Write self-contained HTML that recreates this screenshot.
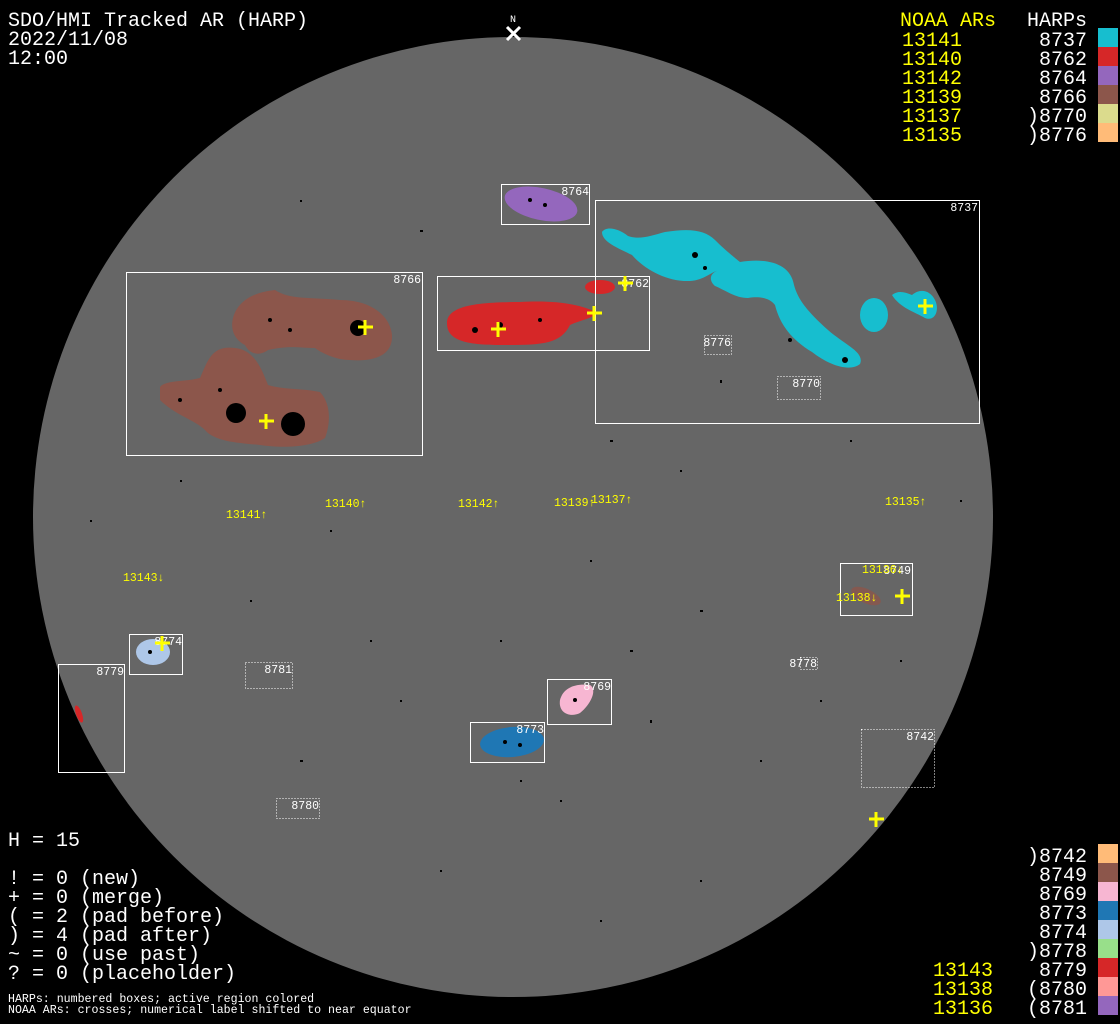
<!DOCTYPE html>
<html><head><meta charset="utf-8"><style>
html,body{margin:0;padding:0;background:#000;}
svg{display:block}
.t{font-family:"Liberation Mono","DejaVu Sans Mono",monospace;}
</style></head><body>
<svg width="1120" height="1024" viewBox="0 0 1120 1024" xmlns="http://www.w3.org/2000/svg">
<rect width="1120" height="1024" fill="#000"/>
<circle cx="513" cy="517" r="480" fill="#666"/>
<g fill="#000">
<rect x="420" y="230" width="3" height="2"/><rect x="300" y="200" width="2" height="2"/><rect x="680" y="470" width="2" height="2"/>
<rect x="610" y="440" width="3" height="2"/><rect x="720" y="380" width="2" height="3"/><rect x="850" y="440" width="2" height="2"/>
<rect x="330" y="530" width="2" height="2"/><rect x="590" y="560" width="2" height="2"/><rect x="700" y="610" width="3" height="2"/>
<rect x="500" y="640" width="2" height="2"/><rect x="400" y="700" width="2" height="2"/><rect x="650" y="720" width="2" height="3"/>
<rect x="760" y="760" width="2" height="2"/><rect x="300" y="760" width="3" height="2"/><rect x="560" y="800" width="2" height="2"/>
<rect x="440" y="870" width="2" height="2"/><rect x="700" y="880" width="2" height="2"/><rect x="250" y="600" width="2" height="2"/>
<rect x="180" y="480" width="2" height="2"/><rect x="90" y="520" width="2" height="2"/><rect x="820" y="700" width="2" height="2"/>
<rect x="900" y="660" width="2" height="2"/><rect x="960" y="500" width="2" height="2"/><rect x="370" y="640" width="2" height="2"/>
<rect x="630" y="650" width="3" height="2"/><rect x="520" y="780" width="2" height="2"/><rect x="600" y="920" width="2" height="2"/>
</g>
<ellipse cx="541" cy="204" rx="37" ry="16" transform="rotate(12 541 204)" fill="#9467bd"/>
<path d="M447,323 C447,305 480,302 520,302 C560,300 580,305 596,312 C596,318 580,320 570,325 C560,345 540,345 500,345 C460,345 447,338 447,323Z" fill="#d62728"/>
<ellipse cx="600" cy="287" rx="15" ry="7" fill="#d62728"/>
<path d="M602,232 C606,226 618,228 628,236 C640,240 650,236 665,232 C690,228 705,230 715,240 C725,250 735,258 740,262 C765,258 790,262 794,285 C798,300 808,312 828,330 C845,345 865,352 860,364 C850,372 830,366 812,352 C792,340 780,325 775,305 C770,298 760,296 748,298 C735,298 725,290 715,286 C708,280 710,272 720,270 C710,272 705,280 690,281 C668,282 645,270 632,255 C618,248 602,242 602,232Z" fill="#17becf"/>
<ellipse cx="874" cy="315" rx="14" ry="17" fill="#17becf"/>
<path d="M892,295 C898,290 905,292 912,295 C920,288 930,290 935,300 C940,310 935,322 925,318 C915,312 900,308 892,295Z" fill="#17becf"/>
<path d="M233,318 C238,300 255,292 275,290 C290,300 310,297 340,300 C370,300 390,315 392,335 C393,355 375,362 350,360 C335,360 320,352 315,348 C300,348 290,345 268,350 C260,356 250,355 245,345 C235,340 230,330 233,318Z" fill="#8c564b"/>
<path d="M160,387 C165,380 185,382 200,378 C208,360 212,345 235,348 C255,350 262,370 268,385 C285,390 300,388 320,392 C332,405 330,425 325,438 C310,448 280,448 260,445 C240,443 215,442 205,430 C195,420 175,415 160,400Z" fill="#8c564b"/>
<g fill="#000">
<circle cx="358" cy="328" r="8"/><circle cx="236" cy="413" r="10"/><circle cx="293" cy="424" r="12"/>
<circle cx="270" cy="320" r="2"/><circle cx="290" cy="330" r="2"/><circle cx="220" cy="390" r="2"/><circle cx="180" cy="400" r="2"/>
<circle cx="500" cy="325" r="3"/><circle cx="475" cy="330" r="3"/><circle cx="540" cy="320" r="2"/>
<circle cx="695" cy="255" r="3"/><circle cx="790" cy="340" r="2"/><circle cx="845" cy="360" r="3"/><circle cx="705" cy="268" r="2"/>
<circle cx="545" cy="205" r="2"/><circle cx="530" cy="200" r="2"/>
</g>
<ellipse cx="153" cy="652" rx="17" ry="13" fill="#aec7e8"/>
<ellipse cx="79" cy="714" rx="3" ry="9" transform="rotate(-20 79 714)" fill="#d62728"/>
<path d="M560,700 C563,688 575,683 590,685 C598,690 590,705 580,713 C570,718 558,713 560,700Z" fill="#f7b6d2"/>
<ellipse cx="512" cy="742" rx="32" ry="15" transform="rotate(-5 512 742)" fill="#1f77b4"/>
<ellipse cx="866" cy="596" rx="16" ry="7" transform="rotate(25 866 596)" fill="#8c564b" opacity="0.8"/>
<g fill="#000"><circle cx="505" cy="742" r="2"/><circle cx="520" cy="745" r="2"/><circle cx="575" cy="700" r="2"/><circle cx="150" cy="652" r="2"/></g>
<g fill="none" stroke="#fff" stroke-width="1">
<rect x="501.5" y="184.5" width="88" height="40"/>
<rect x="595.5" y="200.5" width="384" height="223"/>
<rect x="126.5" y="272.5" width="296" height="183"/>
<rect x="437.5" y="276.5" width="212" height="74"/>
<rect x="840.5" y="563.5" width="72" height="52"/>
<rect x="129.5" y="634.5" width="53" height="40"/>
<rect x="58.5" y="664.5" width="66" height="108"/>
<rect x="547.5" y="679.5" width="64" height="45"/>
<rect x="470.5" y="722.5" width="74" height="40"/>
</g>
<g fill="none" stroke="#fff" stroke-width="1" stroke-dasharray="1,2">
<rect x="704.5" y="335.5" width="27" height="19"/>
<rect x="777.5" y="376.5" width="43" height="23"/>
<rect x="245.5" y="662.5" width="47" height="26"/>
<rect x="800.5" y="657.5" width="17" height="12"/>
<rect x="861.5" y="729.5" width="73" height="58"/>
<rect x="276.5" y="798.5" width="43" height="20"/>
</g>
<g class="t" fill="#fff" font-size="11.5" text-anchor="end">
<text x="589" y="195">8764</text>
<text x="978" y="211">8737</text>
<text x="421" y="283">8766</text>
<text x="649" y="287">8762</text>
<text x="911" y="574">8749</text>
<text x="182" y="645">8774</text>
<text x="124" y="675">8779</text>
<text x="611" y="690">8769</text>
<text x="544" y="733">8773</text>
<text x="731" y="346">8776</text>
<text x="820" y="387">8770</text>
<text x="292" y="673">8781</text>
<text x="817" y="667">8778</text>
<text x="934" y="740">8742</text>
<text x="319" y="809">8780</text>
</g>
<g class="t" fill="#ff0" font-size="11.5">
<text x="226" y="518">13141↑</text>
<text x="325" y="507">13140↑</text>
<text x="458" y="507">13142↑</text>
<text x="554" y="506">13139↑</text>
<text x="591" y="503">13137↑</text>
<text x="885" y="505">13135↑</text>
<text x="123" y="581">13143↓</text>
<text x="862" y="573">13136↓</text>
<text x="836" y="601">13138↓</text>
</g>
<g stroke="#ff0" stroke-width="3">
<path d="M358,327h15M365,320v15"/>
<path d="M259,421h15M266,414v15"/>
<path d="M491,329h15M498,322v15"/>
<path d="M587,313h15M594,306v15"/>
<path d="M618,283h15M625,276v15"/>
<path d="M918,306h15M925,299v15"/>
<path d="M895,596h15M902,589v15"/>
<path d="M869,819h15M876,812v15"/>
<path d="M155,643h15M162,636v15"/>
</g>
<g stroke="#fff" stroke-width="3"><path d="M507,27l13,13M520,27l-13,13"/></g>
<text class="t" x="513" y="22" fill="#fff" font-size="10" text-anchor="middle">N</text>
<g class="t" fill="#fff" font-size="20">
<text x="8" y="26">SDO/HMI Tracked AR (HARP)</text>
<text x="8" y="45">2022/11/08</text>
<text x="8" y="64">12:00</text>
<text x="8" y="846">H = 15</text>
<text x="8" y="884">! = 0 (new)</text>
<text x="8" y="903">+ = 0 (merge)</text>
<text x="8" y="922">( = 2 (pad before)</text>
<text x="8" y="941">) = 4 (pad after)</text>
<text x="8" y="960">~ = 0 (use past)</text>
<text x="8" y="979">? = 0 (placeholder)</text>
</g>
<g class="t" fill="#fff" font-size="11.6">
<text x="8" y="1002">HARPs: numbered boxes; active region colored</text>
<text x="8" y="1013">NOAA ARs: crosses; numerical label shifted to near equator</text>
</g>
<g class="t" font-size="20">
<text x="900" y="26" fill="#ff0">NOAA ARs</text>
<text x="1087" y="26" fill="#fff" text-anchor="end">HARPs</text>
<g fill="#ff0">
<text x="902" y="46">13141</text><text x="902" y="65">13140</text><text x="902" y="84">13142</text>
<text x="902" y="103">13139</text><text x="902" y="122">13137</text><text x="902" y="141">13135</text>
</g>
<g fill="#fff" text-anchor="end">
<text x="1087" y="46">8737</text><text x="1087" y="65">8762</text><text x="1087" y="84">8764</text>
<text x="1087" y="103">8766</text><text x="1087" y="122">)8770</text><text x="1087" y="141">)8776</text>
</g>
</g>
<rect x="1098" y="28" width="20" height="19" fill="#17becf"/>
<rect x="1098" y="47" width="20" height="19" fill="#d62728"/>
<rect x="1098" y="66" width="20" height="19" fill="#9467bd"/>
<rect x="1098" y="85" width="20" height="19" fill="#8c564b"/>
<rect x="1098" y="104" width="20" height="19" fill="#dbdb8d"/>
<rect x="1098" y="123" width="20" height="19" fill="#ffbb78"/>
<g class="t" font-size="20">
<g fill="#fff" text-anchor="end">
<text x="1087" y="862">)8742</text><text x="1087" y="881">8749</text><text x="1087" y="900">8769</text>
<text x="1087" y="919">8773</text><text x="1087" y="938">8774</text><text x="1087" y="957">)8778</text>
<text x="1087" y="976">8779</text><text x="1087" y="995">(8780</text><text x="1087" y="1014">(8781</text>
</g>
<g fill="#ff0">
<text x="933" y="976">13143</text><text x="933" y="995">13138</text><text x="933" y="1014">13136</text>
</g>
</g>
<rect x="1098" y="844" width="20" height="19" fill="#ffbb78"/>
<rect x="1098" y="863" width="20" height="19" fill="#8c564b"/>
<rect x="1098" y="882" width="20" height="19" fill="#f7b6d2"/>
<rect x="1098" y="901" width="20" height="19" fill="#1f77b4"/>
<rect x="1098" y="920" width="20" height="19" fill="#aec7e8"/>
<rect x="1098" y="939" width="20" height="19" fill="#98df8a"/>
<rect x="1098" y="958" width="20" height="19" fill="#d62728"/>
<rect x="1098" y="977" width="20" height="19" fill="#ff9896"/>
<rect x="1098" y="996" width="20" height="19" fill="#9467bd"/>
</svg>
</body></html>
